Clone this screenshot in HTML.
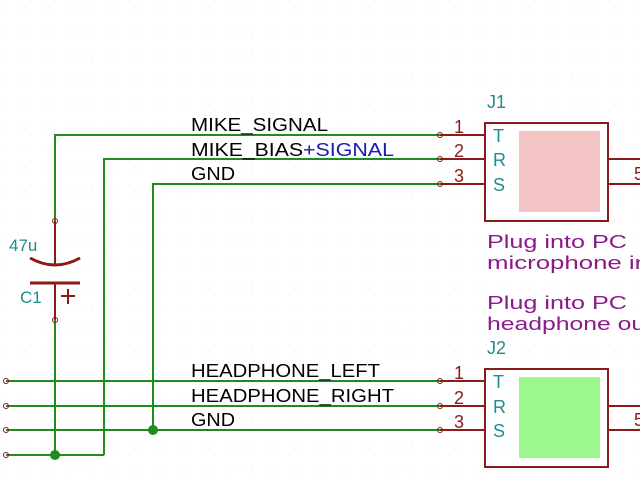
<!DOCTYPE html>
<html><head><meta charset="utf-8"><style>html,body{margin:0;padding:0;background:#fff}svg{display:block}text{font-family:"Liberation Sans","DejaVu Sans",sans-serif}</style></head>
<body>
<svg width="640" height="480" viewBox="0 0 640 480" xmlns="http://www.w3.org/2000/svg">
<defs><pattern id="g" x="0" y="0.6" width="12.3" height="12.3" patternUnits="userSpaceOnUse"><rect x="5.5" y="12" width="1.3" height="1.3" fill="#aaa"/></pattern></defs>
<rect width="640" height="480" fill="#fff"/>
<rect width="640" height="480" fill="url(#g)"/>
<g stroke="#1f8c1f" stroke-width="2" fill="none">
<path d="M55 221 V135 H440"/>
<path d="M104 455 V159 H440"/>
<path d="M153 430 V184 H440"/>
<path d="M55 320 V455"/>
<path d="M6 381 H440 M6 406 H440 M6 430 H440 M6 455 H104"/>
</g>
<g fill="#1f8c1f"><circle cx="55" cy="455" r="5"/><circle cx="153" cy="430" r="5"/></g>
<g stroke="#8b1a1a" stroke-width="2" fill="none">
<path d="M440 135 H485 M440 159 H485 M440 184 H485"/>
<path d="M440 381 H485 M440 406 H485 M440 430 H485"/>
<rect x="485" y="123" width="123" height="98"/>
<rect x="485" y="369" width="123" height="98"/>
<path d="M608 159 H640 M608 184 H640 M608 406 H640 M608 430 H640"/>
<path d="M55 221 V266 M55 283 V320"/>
<path d="M30 258 Q55 272 80 258" stroke-width="3"/>
<path d="M30 283 H80" stroke-width="3"/>
<path d="M61 296 H75 M68 289 V304"/>
</g>
<g fill="none" stroke="#8b1a1a" stroke-width="1"><circle cx="440" cy="135" r="2.5"/><circle cx="440" cy="159" r="2.5"/><circle cx="440" cy="184" r="2.5"/><circle cx="440" cy="381" r="2.5"/><circle cx="440" cy="406" r="2.5"/><circle cx="440" cy="430" r="2.5"/><circle cx="55" cy="221" r="2.5"/><circle cx="55" cy="320" r="2.5"/><circle cx="6" cy="381" r="2.5"/><circle cx="6" cy="406" r="2.5"/><circle cx="6" cy="430" r="2.5"/><circle cx="6" cy="455" r="2.5"/></g>
<rect x="519" y="131" width="81" height="81" fill="#f2c4c4"/>
<rect x="519" y="377" width="81" height="81" fill="#9cf78f"/>
<g font-size="18" fill="#000">
<text x="191" y="131" textLength="137" lengthAdjust="spacingAndGlyphs">MIKE_SIGNAL</text>
<text x="191" y="156" textLength="112" lengthAdjust="spacingAndGlyphs">MIKE_BIAS</text>
<text x="303" y="156" textLength="91" lengthAdjust="spacingAndGlyphs" fill="#1a1ab4">+SIGNAL</text>
<text x="191" y="180" textLength="44" lengthAdjust="spacingAndGlyphs">GND</text>
<text x="191" y="377" textLength="189" lengthAdjust="spacingAndGlyphs">HEADPHONE_LEFT</text>
<text x="191" y="402" textLength="203" lengthAdjust="spacingAndGlyphs">HEADPHONE_RIGHT</text>
<text x="191" y="426" textLength="44" lengthAdjust="spacingAndGlyphs">GND</text>
</g>
<g font-size="18" fill="#8b1a1a">
<text x="454" y="133">1</text><text x="454" y="157">2</text><text x="454" y="182">3</text>
<text x="454" y="379">1</text><text x="454" y="404">2</text><text x="454" y="428">3</text>
<text x="634" y="180">5</text><text x="634" y="426">5</text>
</g>
<g font-size="18" fill="#1f8c8c">
<text x="493" y="142">T</text><text x="493" y="166">R</text><text x="493" y="191">S</text>
<text x="493" y="388">T</text><text x="493" y="413">R</text><text x="493" y="437">S</text>
<text x="487" y="108">J1</text>
<text x="487" y="354">J2</text>
<text x="9" y="251" font-size="17">47u</text>
<text x="20" y="303" font-size="17">C1</text>
</g>
<g font-size="18" fill="#8b1a8b">
<text x="487" y="248" textLength="140" lengthAdjust="spacingAndGlyphs">Plug into PC</text>
<text x="487" y="269" textLength="162" lengthAdjust="spacingAndGlyphs">microphone in</text>
<text x="487" y="309" textLength="140" lengthAdjust="spacingAndGlyphs">Plug into PC</text>
<text x="487" y="330" textLength="165" lengthAdjust="spacingAndGlyphs">headphone out</text>
</g>
</svg>
</body></html>
